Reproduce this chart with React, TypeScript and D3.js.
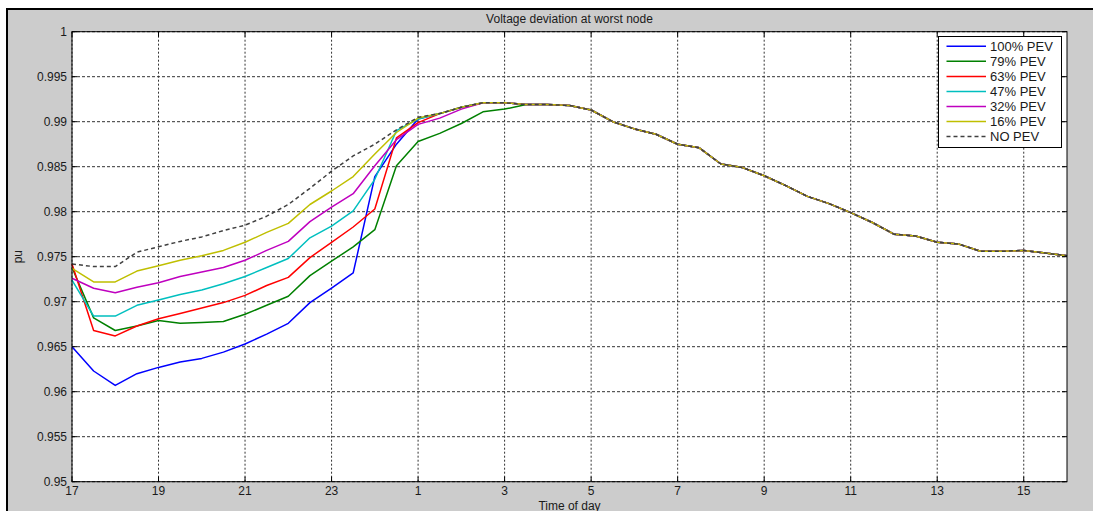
import React from "react";
import * as d3 from "d3";

// Half-hourly samples from 17:00 to 03:00 next day (21 points) per scenario
const pev100 = [0.965, 0.9623, 0.9607, 0.962, 0.9627, 0.9633, 0.9637, 0.9644, 0.9653, 0.9664, 0.9676, 0.9699, 0.9715, 0.9732, 0.9839, 0.9875, 0.9903, 0.9909, 0.9916, 0.9921, 0.9921];
const pev79 = [0.9738, 0.9682, 0.9668, 0.9673, 0.9679, 0.9676, 0.9677, 0.9678, 0.9686, 0.9696, 0.9706, 0.9729, 0.9745, 0.9761, 0.978, 0.9851, 0.9878, 0.9887, 0.9898, 0.9911, 0.9914];
const pev63 = [0.9742, 0.9668, 0.9662, 0.9673, 0.9681, 0.9687, 0.9693, 0.9699, 0.9707, 0.9718, 0.9727, 0.9749, 0.9766, 0.9783, 0.9803, 0.9882, 0.9899, 0.9909, 0.9916, 0.9921, 0.9921];
const pev47 = [0.9724, 0.9684, 0.9684, 0.9696, 0.9702, 0.9708, 0.9713, 0.972, 0.9728, 0.9738, 0.9748, 0.9771, 0.9784, 0.9801, 0.9836, 0.989, 0.9903, 0.9909, 0.9916, 0.9921, 0.9921];
const pev32 = [0.9726, 0.9715, 0.971, 0.9716, 0.9721, 0.9728, 0.9733, 0.9738, 0.9746, 0.9757, 0.9767, 0.9789, 0.9805, 0.982, 0.9851, 0.988, 0.9897, 0.9904, 0.9914, 0.9921, 0.9921];
const pev16 = [0.9737, 0.9722, 0.9722, 0.9734, 0.974, 0.9746, 0.9751, 0.9757, 0.9766, 0.9777, 0.9787, 0.9808, 0.9823, 0.9839, 0.9864, 0.9888, 0.9904, 0.9909, 0.9916, 0.9921, 0.9921];
const noPev = [0.9742, 0.9739, 0.9739, 0.9755, 0.9761, 0.9767, 0.9772, 0.9779, 0.9785, 0.9795, 0.9808, 0.9826, 0.9845, 0.9862, 0.9875, 0.9891, 0.9905, 0.9909, 0.9916, 0.9921, 0.9921];

// Shared profile from 03:30 to 16:00 (26 points), identical for all scenarios
const commonTail = [0.9919, 0.9919, 0.9918, 0.9913, 0.99, 0.9892, 0.9886, 0.9875, 0.9871, 0.9853, 0.9849, 0.984, 0.9829, 0.9817, 0.9809, 0.9799, 0.9788, 0.9775, 0.9773, 0.9766, 0.9764, 0.9756, 0.9756, 0.9757, 0.9754, 0.9751];

const seriesLabels = ["100% PEV", "79% PEV", "63% PEV", "47% PEV", "32% PEV", "16% PEV", "NO PEV"];
const seriesColors = ["#0000ff", "#008000", "#ff0000", "#00bfbf", "#bf00bf", "#bfbf00", "#404040"];
const seriesHeads = [pev100, pev79, pev63, pev47, pev32, pev16, noPev];

const xTickHours = [17, 19, 21, 23, 25, 27, 29, 31, 33, 35, 37, 39];
const yTickValues = [0.95, 0.955, 0.96, 0.965, 0.97, 0.975, 0.98, 0.985, 0.99, 0.995, 1];

const W = 1093;
const H = 511;
const plot = { left: 72, right: 1067, top: 31.7, bottom: 481.7 };
const FONT = "'Liberation Sans', Arial, sans-serif";

export default function App() {
  const x = d3.scaleLinear().domain([17, 40]).range([plot.left, plot.right]);
  const y = d3.scaleLinear().domain([0.95, 1]).range([plot.bottom, plot.top]);

  const series = seriesHeads.map((head, i) => {
    const vals = head.concat(commonTail);
    return {
      label: seriesLabels[i],
      color: seriesColors[i],
      dashed: i === seriesHeads.length - 1,
      points: vals.map((v, k) => [17 + k * 0.5, v] as [number, number]),
    };
  });

  const line = d3
    .line<[number, number]>()
    .x((d) => x(d[0]))
    .y((d) => y(d[1]));

  const hourLabel = (h: number) => String(h > 24 ? h - 24 : h);
  const tick = 5;

  const legend = { x: 938.5, y: 36.5, w: 123, h: 111 };

  return (
    <svg
      width={W}
      height={H}
      style={{ position: "absolute", left: 0, top: 0, display: "block" }}
      fontFamily={FONT}
    >
      <rect x={0} y={0} width={W} height={H} fill="#ffffff" />
      <rect x={8} y={10} width={W - 8} height={H - 10} fill="#cccccc" />
      <line x1={7} y1={9} x2={W} y2={9} stroke="#000" strokeWidth={2} />
      <line x1={7} y1={8} x2={7} y2={H} stroke="#000" strokeWidth={2} />

      <rect
        x={plot.left}
        y={plot.top}
        width={plot.right - plot.left}
        height={plot.bottom - plot.top}
        fill="#ffffff"
      />

      {/* grid */}
      {yTickValues.map((v) => (
        <line
          key={"gy" + v}
          x1={plot.left}
          x2={plot.right}
          y1={y(v)}
          y2={y(v)}
          stroke="#333"
          strokeWidth={1}
          strokeDasharray="3,2"
        />
      ))}
      {xTickHours.map((h) => (
        <line
          key={"gx" + h}
          x1={x(h)}
          x2={x(h)}
          y1={plot.top}
          y2={plot.bottom}
          stroke="#333"
          strokeWidth={1}
          strokeDasharray="2,2"
        />
      ))}

      {/* series */}
      {series.map((s) => (
        <path
          key={s.label}
          d={line(s.points) || ""}
          fill="none"
          stroke={s.color}
          strokeWidth={1.5}
          strokeDasharray={s.dashed ? "4,3" : undefined}
          strokeLinejoin="round"
        />
      ))}

      {/* axes box and ticks */}
      <rect
        x={plot.left}
        y={plot.top}
        width={plot.right - plot.left}
        height={plot.bottom - plot.top}
        fill="none"
        stroke="#000"
        strokeWidth={1}
      />
      {yTickValues.map((v) => (
        <g key={"ty" + v}>
          <line x1={plot.left} x2={plot.left + tick} y1={y(v)} y2={y(v)} stroke="#000" />
          <line x1={plot.right - tick} x2={plot.right} y1={y(v)} y2={y(v)} stroke="#000" />
          <text
            x={plot.left - 5}
            y={y(v)}
            dy="0.35em"
            textAnchor="end"
            fontSize={12}
            fill="#1a1a1a"
          >
            {String(v)}
          </text>
        </g>
      ))}
      {xTickHours.map((h) => (
        <g key={"tx" + h}>
          <line x1={x(h)} x2={x(h)} y1={plot.bottom} y2={plot.bottom - tick} stroke="#000" />
          <line x1={x(h)} x2={x(h)} y1={plot.top} y2={plot.top + tick} stroke="#000" />
          <text x={x(h)} y={494.5} textAnchor="middle" fontSize={12} fill="#1a1a1a">
            {hourLabel(h)}
          </text>
        </g>
      ))}

      <text
        x={(plot.left + plot.right) / 2}
        y={509.5}
        textAnchor="middle"
        fontSize={12}
        fill="#1a1a1a"
      >
        Time of day
      </text>
      <text
        transform={`translate(22, ${(plot.top + plot.bottom) / 2}) rotate(-90)`}
        textAnchor="middle"
        fontSize={12}
        fill="#1a1a1a"
      >
        pu
      </text>
      <text
        x={(plot.left + plot.right) / 2}
        y={23}
        textAnchor="middle"
        fontSize={12}
        fill="#1a1a1a"
      >
        Voltage deviation at worst node
      </text>

      {/* legend */}
      <rect
        x={legend.x}
        y={legend.y}
        width={legend.w}
        height={legend.h}
        fill="#ffffff"
        stroke="#000"
        strokeWidth={1}
      />
      {series.map((s, i) => {
        const cy = 46.3 + i * 15.05;
        return (
          <g key={"lg" + s.label}>
            <line
              x1={946.5}
              x2={986}
              y1={cy}
              y2={cy}
              stroke={s.color}
              strokeWidth={1.5}
              strokeDasharray={s.dashed ? "4,3" : undefined}
            />
            <text x={990} y={cy} dy="0.35em" fontSize={13} fill="#1a1a1a">
              {s.label}
            </text>
          </g>
        );
      })}
    </svg>
  );
}
